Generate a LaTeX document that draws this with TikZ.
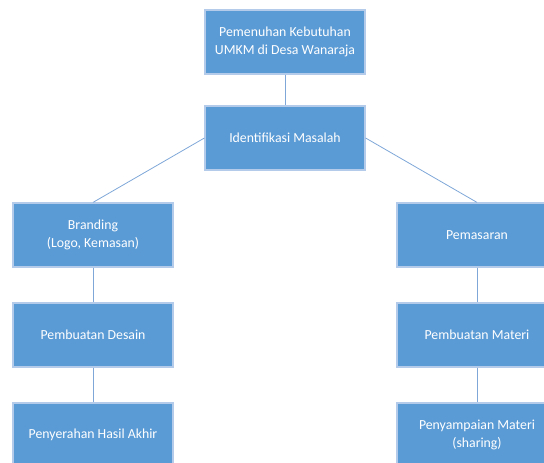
\documentclass[tikz,border=0pt]{standalone}
\usepackage{fontspec}
\setmainfont{Carlito}
\usetikzlibrary{trees}
\definecolor{boxblue}{HTML}{5B9BD5}
\definecolor{boxedge}{HTML}{B4CBEA}
\definecolor{linkblue}{HTML}{7FA7D8}

\begin{document}
\begin{tikzpicture}[x=1pt,y=1pt,
        box/.style={rectangle,draw=boxedge,line width=1.2pt,fill=boxblue,text=white,
            minimum width=160pt,minimum height=64pt,inner sep=0pt,align=center,
            font=\fontsize{13.8}{18}\selectfont},
        edge from parent/.style={draw=linkblue,line width=0.8pt},
        level 1/.style={level distance=96pt},
        level 2/.style={level distance=97pt,sibling distance=384pt},
        level 3/.style={level distance=100pt,
            edge from parent path={(\tikzparentnode.south) -- (\tikzchildnode.north)}},
        level 4/.style={level distance=100pt,
            edge from parent path={(\tikzparentnode.south) -- (\tikzchildnode.north)}}]
    \useasboundingbox (0,0) rectangle (544,-463);
    \clip (0,0) rectangle (544,-463);
    \node[box] (kebutuhan) at (285,-42) {Pemenuhan Kebutuhan\\UMKM di Desa Wanaraja}
        child{node[box] (identifikasi) {Identifikasi Masalah}
            child[edge from parent path={(\tikzparentnode.west) -- (\tikzchildnode.north)}]{node[box] (branding) {Branding\\(Logo, Kemasan)}
                child{node[box] (desain) {Pembuatan Desain}
                    child{node[box] (hasil) {Penyerahan Hasil Akhir}}}}
            child[edge from parent path={(\tikzparentnode.east) -- (\tikzchildnode.north)}]{node[box] (pemasaran) {Pemasaran}
                child{node[box] (materi) {Pembuatan Materi}
                    child{node[box] (sharing) {Penyampaian Materi\\(sharing)}}}}};
\end{tikzpicture}
\end{document}
